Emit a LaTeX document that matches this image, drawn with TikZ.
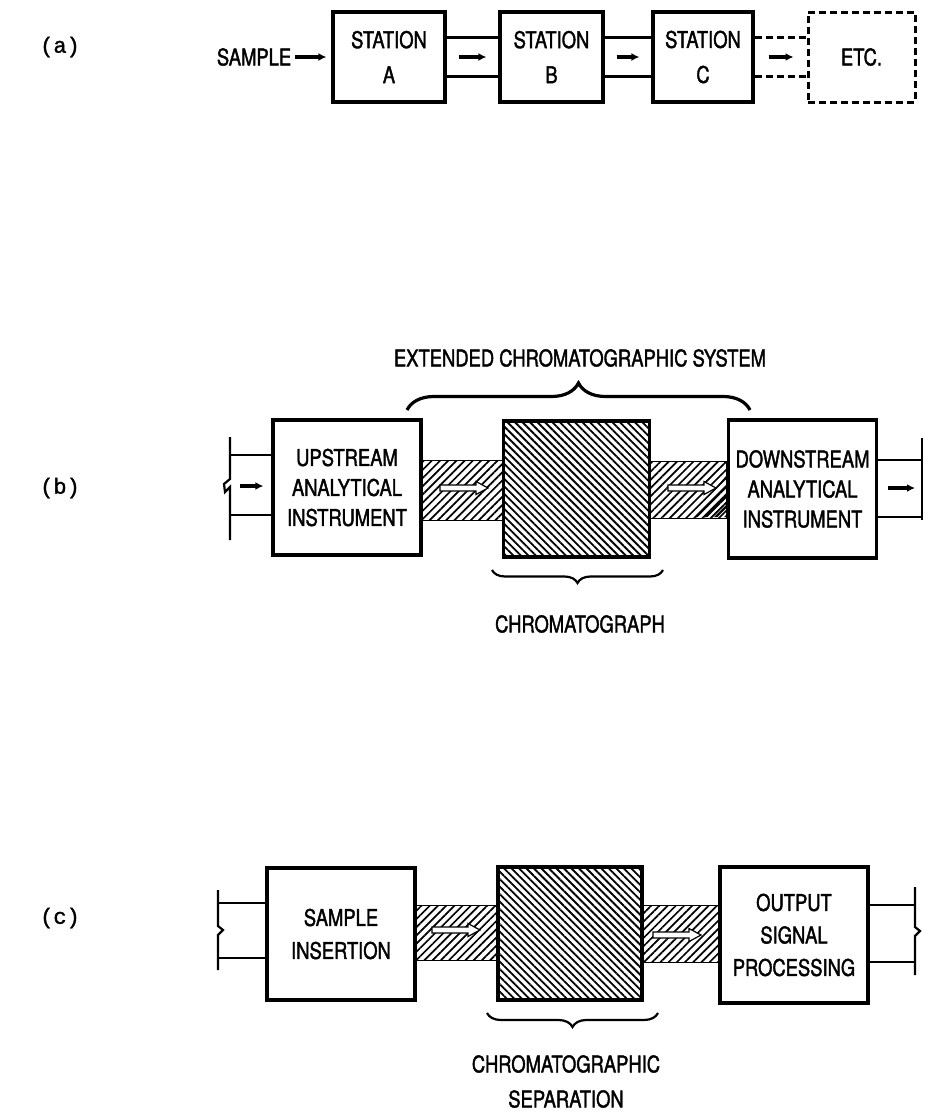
\documentclass[tikz,border=0pt]{standalone}
\usepackage{fontspec}
\setmainfont{TeX Gyre Heros}[FakeStretch=0.8, FakeBold=1.6]
\newfontfamily\tagfont{Liberation Mono}[FakeBold=1.4]
\usetikzlibrary{positioning,arrows.meta,patterns.meta,decorations.pathreplacing}

\begin{document}
\begin{tikzpicture}[x=1pt, y=-1pt,
  lbl/.style={font=\fontsize{23}{35}\selectfont, inner sep=0pt, align=center},
  stbox/.style={draw, line width=3.2pt, align=center, inner sep=0pt, minimum height=90pt, minimum width=#1, font=\fontsize{23}{35}\selectfont},
  stbox/.default=103pt,
  etcbox/.style={stbox=107pt, dashed, dash pattern=on 7pt off 4pt, line width=3pt},
  inst/.style={draw, line width=3.2pt, align=center, inner sep=0pt, minimum width=148pt, minimum height=#1, font=\fontsize{23}{30}\selectfont},
  inst/.default=135pt,
  chrom/.style={draw, line width=3.2pt, inner sep=0pt, minimum width=146pt, minimum height=#1, pattern={Lines[angle=-45, distance=5.3pt, line width=1.8pt]}},
  chrom/.default=136pt,
  pipe/.style={draw, line width=1pt, pattern={Lines[angle=45, distance=5.8pt, line width=1.7pt]}},
  wire/.style={line width=2.2pt},
  flow/.style={-{Latex[length=8pt, width=8pt]}, line width=3.4pt},
  curly/.style={decorate, decoration={brace, amplitude=#1}},
  tag/.style={font=\tagfont\fontsize{22}{22}\selectfont, inner sep=0pt},
  hollow/.pic={\filldraw[fill=white, line width=1.2pt] (-24,-3) -- (12,-3) -- (12,-6.5) -- (24,0) -- (12,6.5) -- (12,3) -- (-24,3) -- cycle;}]
  \useasboundingbox (0,0) rectangle (925,1114);

  % (a) stations in series
  \node[tag] (taga) at (60,47) {(a)};
  \node[stbox=112pt] (stA) at (389,57) {STATION\\A};
  \node[stbox] (stB) at (551.5,57) {STATION\\B};
  \node[stbox=100pt] (stC) at (703,57) {STATION\\C};
  \node[etcbox] (etc) at (861.5,57) {ETC.};
  \node[lbl, left=40pt of stA] (sample) {SAMPLE};
  \draw[flow] ([xshift=4pt]sample.east) -- ([xshift=-5pt]stA.west);
  \foreach \a/\b in {stA/stB, stB/stC} {
    \draw[wire] ([yshift=19.5pt]\a.east) -- ([yshift=19.5pt]\b.west);
    \draw[wire] ([yshift=-19.5pt]\a.east) -- ([yshift=-19.5pt]\b.west);
    \draw[flow] ([xshift=12pt]\a.east) -- ([xshift=-12pt]\b.west);
  }
  \draw[wire, line width=2.6pt, dashed, dash pattern=on 7pt off 4pt] ([yshift=19.5pt]stC.east) -- ([yshift=19.5pt]etc.west);
  \draw[wire, line width=2.6pt, dashed, dash pattern=on 7pt off 4pt] ([yshift=-19.5pt]stC.east) -- ([yshift=-19.5pt]etc.west);
  \draw[flow] ([xshift=14pt]stC.east) -- ([xshift=-13pt]etc.west);

  % (b) extended system
  \node[tag] (tagb) at (60,488) {(b)};
  \node[inst] (up) at (347,487.5) {UPSTREAM\\ANALYTICAL\\INSTRUMENT};
  \node[chrom] (chr1) at (576.5,489) {};
  \node[inst=138pt] (down) at (802.5,489) {DOWNSTREAM\\ANALYTICAL\\INSTRUMENT};
  \draw[pipe] (up.east |- 0,460) rectangle (chr1.west |- 0,520);
  \draw[pipe] (chr1.east |- 0,461) rectangle (down.west |- 0,518);
  \fill[pattern={Lines[angle=45, distance=7pt, line width=2.2pt]}] (down.west |- 0,475) -- (down.west |- 0,517) -- (690,517) -- cycle;
  \pic at (464,488) {hollow};
  \pic at (692,488) {hollow};
  \coordinate (inT) at (230,455);
  \coordinate (inM) at (230,486);
  \coordinate (inB) at (230,515);
  \draw[wire] (230,437) -- (230,479) -- (224,484) -- (225,492) -- (230,487) -- (230,540);
  \draw[wire] (inT) -- (inT -| up.west);
  \draw[wire] (inB) -- (inB -| up.west);
  \draw[flow] ([xshift=10pt]inM) -- ([xshift=-8pt]inM -| up.west);
  \coordinate (outT) at (922,460);
  \coordinate (outM) at (922,488);
  \coordinate (outB) at (922,517);
  \draw[wire] (922,438) -- (922,520);
  \draw[wire] (down.east |- outT) -- (outT);
  \draw[wire] (down.east |- outB) -- (outB);
  \draw[flow] ([xshift=10pt]down.east |- outM) -- ([xshift=-7pt]outM);
  \draw[curly=27pt, line width=3.2pt] (407,410) -- (750,410);
  \node[lbl] (ext) at (580,358) {EXTENDED CHROMATOGRAPHIC SYSTEM};
  \draw[curly=13pt, line width=2.2pt] (663,570) -- (492,570);
  \node[lbl] (chrtxt) at (580,624) {CHROMATOGRAPH};

  % (c) chromatographic separation
  \node[tag] (tagc) at (60,918) {(c)};
  \node[inst=132pt, font=\fontsize{23}{33}\selectfont] (ins) at (341,934) {SAMPLE\\INSERTION};
  \node[chrom=133pt, minimum width=144pt] (chr2) at (570,933.5) {};
  \node[inst=136pt, font=\fontsize{23}{32.5}\selectfont] (out) at (794,935) {OUTPUT\\SIGNAL\\PROCESSING};
  \draw[pipe] (ins.east |- 0,905) rectangle (chr2.west |- 0,960);
  \draw[pipe] (chr2.east |- 0,905) rectangle (out.west |- 0,962);
  \pic at (456,930) {hollow};
  \pic at (677,935) {hollow};
  \coordinate (sT) at (218,903);
  \coordinate (sB) at (218,958);
  \draw[wire] (218,890) -- (218,926) -- (223,930) -- (218,935) -- (218,970);
  \draw[wire] (sT) -- (sT -| ins.west);
  \draw[wire] (sB) -- (sB -| ins.west);
  \coordinate (oT) at (915,905);
  \coordinate (oB) at (915,962);
  \draw[wire] (915,887) -- (915,927) -- (920,931) -- (915,936) -- (915,975);
  \draw[wire] (out.east |- oT) -- (oT);
  \draw[wire] (out.east |- oB) -- (oB);
  \draw[curly=14pt, line width=2.2pt] (658,1013) -- (487,1013);
  \node[lbl] (septxt) at (566,1081.5) {CHROMATOGRAPHIC\\SEPARATION};
\end{tikzpicture}
\end{document}
